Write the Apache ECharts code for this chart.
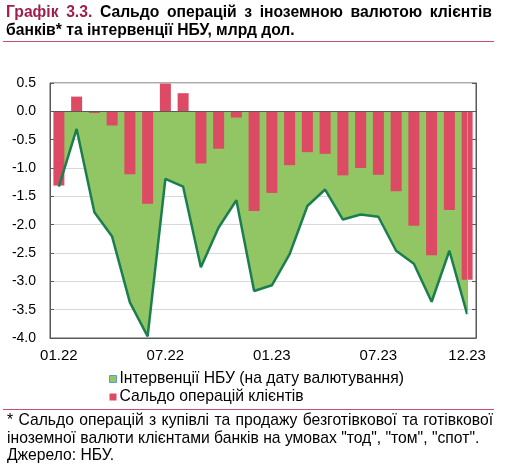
<!DOCTYPE html>
<html>
<head>
<meta charset="utf-8">
<script src="https://cdn.jsdelivr.net/npm/echarts@6/dist/echarts.min.js"></script>
<style>
  html, body { margin: 0; padding: 0; background: #fff; }
  #chart { width: 512px; height: 468px; }
</style>
</head>
<body>
<div id="chart"></div>
<script>
// months, 01.22 .. 12.23
const months = [
    '01.22', '02.22', '03.22', '04.22', '05.22', '06.22', '07.22', '08.22', '09.22', '10.22', '11.22', '12.22',
    '01.23', '02.23', '03.23', '04.23', '05.23', '06.23', '07.23', '08.23', '09.23', '10.23', '11.23', '12.23'
];
const shownMonths = ['01.22', '07.22', '01.23', '07.23', '12.23'];

// Сальдо операцій клієнтів, млрд дол.
const clientBalance = [
    -1.31, 0.26, -0.03, -0.25, -1.11, -1.63, 0.49, 0.32, -0.92, -0.66, -0.11, -1.76,
    -1.44, -0.95, -0.72, -0.75, -1.13, -1.00, -1.12, -1.41, -2.02, -2.54, -1.74, -2.97
];
// Інтервенції НБУ, млрд дол.
const nbuInterventions = [
    -1.33, -0.31, -1.78, -2.21, -3.37, -3.97, -1.19, -1.33, -2.75, -2.05, -1.57, -3.17,
    -3.07, -2.52, -1.67, -1.38, -1.91, -1.82, -1.86, -2.46, -2.69, -3.36, -2.46, -3.58
];

const yTicks = { min: -4, max: 0.5, step: 0.5 };

const FONT = '"Liberation Sans", Arial, sans-serif';
const C_GREEN = '#92C563';
const C_LINE = '#1B7E4E';
const C_RED = '#DC4A64';
const C_AXIS = '#595959';
const C_GRID = '#D9D9D9';
const C_RULE = '#C4506C';
const C_TITLE = '#9E1F4F';

const titleLine1 = [
    { t: 'Графік', c: C_TITLE }, { t: '3.3.', c: C_TITLE },
    { t: 'Сальдо' }, { t: 'операцій' }, { t: 'з' }, { t: 'іноземною' }, { t: 'валютою' }, { t: 'клієнтів' }
];
const titleLine2 = 'банків* та інтервенції НБУ, млрд дол.';
const note = [
    '* Сальдо операцій з купівлі та продажу безготівкової та готівкової',
    'іноземної валюти клієнтами банків на умовах "тод", "том", "спот".',
    'Джерело: НБУ.'
];

let ctx = document.createElement('canvas').getContext('2d');

// spread words over [x0, x1] like justified text
function justify(words, font, x0, x1, y) {
    ctx.font = font;
    let widths = words.map(w => ctx.measureText(w.t).width);
    let total = widths.reduce((a, b) => a + b, 0);
    let gap = (x1 - x0 - total) / (words.length - 1);
    let x = x0;
    return words.map((w, i) => {
        let el = {
            type: 'text',
            style: { text: w.t, x: x, y: y, font: font, fill: w.c || '#000', textVerticalAlign: 'middle' }
        };
        x += widths[i] + gap;
        return el;
    });
}

function textLine(text, font, x, y) {
    return {
        type: 'text',
        style: { text: text, x: x, y: y, font: font, fill: '#000', textVerticalAlign: 'middle' }
    };
}

function rule(y) {
    return {
        type: 'line',
        shape: { x1: 3, y1: y, x2: 494, y2: y },
        style: { stroke: C_RULE, lineWidth: 1 }
    };
}

let chart = echarts.init(document.getElementById('chart'), null, { renderer: 'canvas' });

let titleFont = 'bold 15.7px ' + FONT;
let noteFont = '15.7px ' + FONT;

let graphics = [].concat(
    justify(titleLine1, titleFont, 6, 492, 12.5),
    [textLine(titleLine2, titleFont, 6, 30.5), rule(41.5)],
    [rule(409.5)],
    justify(note[0].split(' ').map(t => ({ t })), noteFont, 7, 493, 421),
    [textLine(note[1], noteFont, 7, 438.5), textLine(note[2], noteFont, 7, 456)]
);

let option = {
    animation: false,
    textStyle: { fontFamily: FONT },
    grid: {
        left: 50, right: 36, top: 83, bottom: 130,
        show: true, borderColor: C_AXIS, borderWidth: 1
    },
    legend: {
        orient: 'vertical',
        left: 109, top: 371,
        padding: 0,
        itemGap: 2,
        itemWidth: 7, itemHeight: 7,
        icon: 'rect',
        textStyle: { fontSize: 15.7, color: '#000', padding: [0, 0, 0, -2] },
        data: [
            { name: 'Інтервенції НБУ (на дату валютування)', itemStyle: { color: C_GREEN, borderColor: '#5B9BD5', borderWidth: 1 } },
            { name: 'Сальдо операцій клієнтів', itemStyle: { color: C_RED } }
        ]
    },
    xAxis: {
        type: 'category',
        data: months,
        boundaryGap: true,
        axisLine: { onZero: false, lineStyle: { color: C_AXIS, width: 1 } },
        axisTick: { show: false },
        axisLabel: {
            interval: (i, v) => shownMonths.includes(v),
            fontSize: 15, color: '#000', margin: 10
        },
        splitLine: {
            show: true,
            interval: (i) => i === 12,
            lineStyle: { color: C_GRID }
        }
    },
    yAxis: [
        {
            type: 'value',
            min: yTicks.min, max: yTicks.max, interval: yTicks.step,
            axisLine: { show: true, lineStyle: { color: C_AXIS } },
            axisTick: { show: true, inside: true, length: 4, lineStyle: { color: C_AXIS } },
            axisLabel: { fontSize: 14, color: '#000', margin: 14, formatter: v => v.toFixed(1) },
            splitLine: { lineStyle: { color: C_GRID } }
        },
        {
            type: 'value',
            position: 'right',
            min: yTicks.min, max: yTicks.max, interval: yTicks.step,
            axisLine: { show: true, lineStyle: { color: C_AXIS } },
            axisTick: { show: true, inside: true, length: 4, lineStyle: { color: C_AXIS } },
            axisLabel: { show: false },
            splitLine: { show: false }
        }
    ],
    series: [
        {
            name: 'Інтервенції НБУ (на дату валютування)',
            type: 'line',
            data: nbuInterventions,
            symbol: 'none',
            z: 1,
            itemStyle: { color: C_GREEN },
            lineStyle: { width: 0 },
            areaStyle: { color: C_GREEN, opacity: 1 },
            markLine: {
                silent: true,
                symbol: 'none',
                label: { show: false },
                lineStyle: { color: '#7FB2DE', width: 1, type: 'solid' },
                data: [[
                    { coord: [months[23], 0] },
                    { coord: [months[23], nbuInterventions[23]] }
                ]]
            }
        },
        {
            name: 'Сальдо операцій клієнтів',
            type: 'bar',
            data: clientBalance,
            barWidth: 11,
            z: 2,
            itemStyle: { color: C_RED },
            markLine: {
                silent: true,
                symbol: 'none',
                label: { show: false },
                lineStyle: { color: C_AXIS, width: 1, type: 'solid' },
                data: [{ yAxis: 0 }]
            }
        },
        {
            name: 'line',
            type: 'line',
            data: nbuInterventions,
            symbol: 'none',
            z: 3,
            lineStyle: { color: C_LINE, width: 2.5 }
        }
    ],
    graphic: graphics
};

chart.setOption(option);
</script>
</body>
</html>
